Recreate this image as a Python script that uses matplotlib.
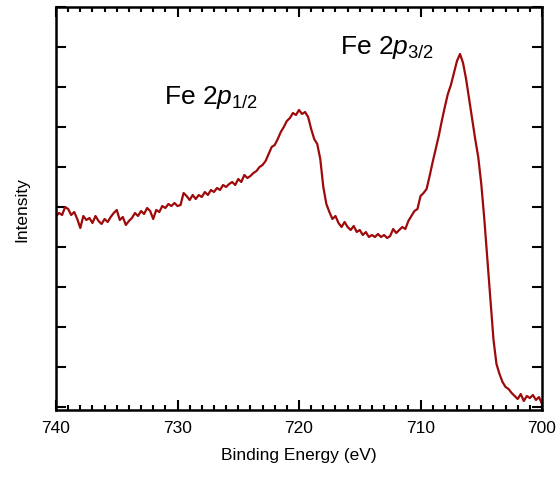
import numpy as np
import matplotlib
matplotlib.use("Agg")
import matplotlib.pyplot as plt
from matplotlib.ticker import MultipleLocator

plt.rcParams["font.family"] = ["Liberation Sans", "DejaVu Sans"]
plt.rcParams["mathtext.fontset"] = "custom"
plt.rcParams["mathtext.rm"] = "Liberation Sans"
plt.rcParams["mathtext.it"] = "Liberation Sans:italic"

# Fe 2p XPS spectrum, binding energy scan 740 -> 700 eV in 0.25 eV steps
binding_energy = np.arange(740.0, 699.99, -0.25)
intensity = np.array([
    4775, 4850, 4800, 5000, 4950, 4800, 4875, 4700, 4475, 4775,
    4675, 4725, 4600, 4775, 4650, 4575, 4700, 4625, 4750, 4850,
    4925, 4675, 4750, 4550, 4650, 4725, 4850, 4775, 4900, 4825,
    4975, 4900, 4700, 4925, 4875, 5025, 4975, 5075, 5025, 5100,
    5025, 5050, 5350, 5275, 5175, 5300, 5200, 5300, 5250, 5375,
    5300, 5425, 5375, 5475, 5425, 5550, 5500, 5575, 5625, 5550,
    5700, 5625, 5800, 5725, 5775, 5850, 5900, 6000, 6050, 6150,
    6325, 6500, 6550, 6700, 6875, 7000, 7150, 7225, 7350, 7300,
    7425, 7325, 7375, 7250, 6950, 6700, 6575, 6200, 5500, 5075,
    4875, 4700, 4775, 4600, 4500, 4625, 4500, 4425, 4525, 4375,
    4425, 4300, 4375, 4250, 4300, 4250, 4325, 4250, 4300, 4225,
    4275, 4450, 4350, 4425, 4500, 4450, 4650, 4775, 4900, 4950,
    5275, 5350, 5450, 5775, 6125, 6450, 6775, 7150, 7500, 7825,
    8050, 8350, 8650, 8825, 8600, 8200, 7700, 7200, 6700, 6250,
    5575, 4700, 3700, 2700, 1700, 1075, 825, 625, 500, 450,
    350, 275, 200, 325, 150, 275, 225, 300, 175, 250,
    75,
])

fig = plt.figure(figsize=(5.6, 4.81), dpi=100)
ax = fig.add_axes([0.1, 0.1455, 0.8679, 0.8379])

ax.plot(binding_energy, intensity, color="#9e0a0a", linewidth=1.6)

ax.set_xlim(740, 700)
ax.set_ylim(-75, 10000)

ax.xaxis.set_major_locator(MultipleLocator(10))
ax.xaxis.set_minor_locator(MultipleLocator(1))
ax.yaxis.set_major_locator(MultipleLocator(1000))
ax.set_yticklabels([])

ax.tick_params(axis="both", which="major", direction="in", length=7, width=1.5,
               top=True, right=True, labelsize=12.5, pad=7)
ax.tick_params(axis="x", which="minor", direction="in", length=3.5, width=1.5,
               top=True)
for spine in ax.spines.values():
    spine.set_linewidth(1.8)

ax.set_xlabel("Binding Energy (eV)", fontsize=12.5, labelpad=9)
ax.set_ylabel("Intensity", fontsize=12.5, labelpad=12)

ax.text(727.2, 7750, r"Fe 2$\mathit{p}_{\mathrm{1/2}}$", fontsize=19,
        ha="center", va="center")
ax.text(712.75, 9000, r"Fe 2$\mathit{p}_{\mathrm{3/2}}$", fontsize=19,
        ha="center", va="center")

fig.savefig("out.png", dpi=100)
